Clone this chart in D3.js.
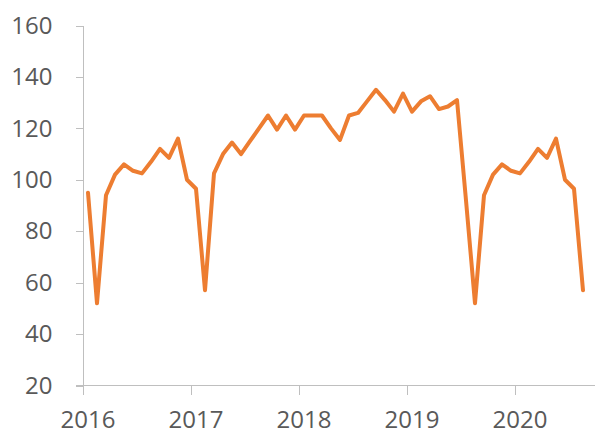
<!DOCTYPE html>
<html>
<head>
<meta charset="utf-8">
<script src="https://cdn.jsdelivr.net/npm/d3@7"></script>
<style>
  body { margin: 0; background: #fff; }
  svg text { font-family: "Open Sans", sans-serif; font-size: 24px; fill: #595959; }
</style>
</head>
<body>
<svg id="chart" width="595" height="433"></svg>
<script>
// monthly values, Jan 2016 .. Aug 2020
var values = [95, 52, 94, 102, 106, 103.5, 102.5, 107, 112, 108.5, 116, 100,
              96.5, 57, 102.5, 110, 114.5, 110, 115, 120, 125, 119.5, 125, 119.5,
              125, 125, 125, 120, 115.5, 125, 126, 130.5, 135, 131, 126.5, 133.5,
              126.5, 130.5, 132.5, 127.5, 128.5, 131, 92, 52, 94, 102, 106, 103.5,
              102.5, 107, 112, 108.5, 116, 100, 96.5, 57];
var months = d3.timeMonth.range(new Date(2016, 0, 1), new Date(2020, 8, 1));
var years = [2016, 2017, 2018, 2019, 2020];
var yTicks = [20, 40, 60, 80, 100, 120, 140, 160];

var data = months.map(function(m, i) { return {month: m, value: values[i]}; });

var svg = d3.select("#chart"),
    plotLeft = 83.5, plotRight = 587.5, plotTop = 25.5, plotBottom = 385.5;

var x = d3.scaleBand().domain(months).range([plotLeft, plotRight]).padding(0);
var y = d3.scaleLinear().domain([20, 160]).range([plotBottom, plotTop]);

var axisColor = "#bfbfbf";

// y axis
var gy = svg.append("g")
    .attr("transform", "translate(" + plotLeft + ",0)")
    .call(d3.axisLeft(y).tickValues(yTicks).tickSize(8).tickPadding(23).tickSizeOuter(0));
gy.select(".domain").remove();
gy.selectAll(".tick line").attr("stroke", axisColor).attr("shape-rendering", "crispEdges");
gy.selectAll(".tick text").attr("font-size", null).attr("font-family", null).attr("fill", null);
gy.attr("font-size", null).attr("font-family", null);
svg.append("line")
    .attr("x1", plotLeft).attr("x2", plotLeft)
    .attr("y1", plotTop).attr("y2", plotBottom)
    .attr("stroke", axisColor).attr("shape-rendering", "crispEdges");

// x axis
var yearStarts = years.map(function(yr) { return new Date(yr, 0, 1); });
svg.append("line")
    .attr("x1", plotLeft - 8).attr("x2", 595)
    .attr("y1", plotBottom).attr("y2", plotBottom)
    .attr("stroke", axisColor).attr("shape-rendering", "crispEdges");
svg.selectAll(".xtick")
    .data(yearStarts)
  .enter().append("line")
    .attr("class", "xtick")
    .attr("x1", function(d) { return Math.floor(x(d)) + 0.5; })
    .attr("x2", function(d) { return Math.floor(x(d)) + 0.5; })
    .attr("y1", plotBottom).attr("y2", plotBottom + 9)
    .attr("stroke", axisColor).attr("shape-rendering", "crispEdges");
svg.selectAll(".xlabel")
    .data(yearStarts)
  .enter().append("text")
    .attr("class", "xlabel")
    .attr("x", function(d) { return x(d) + x.bandwidth() / 2; })
    .attr("y", 420)
    .attr("dy", "0.35em")
    .attr("text-anchor", "middle")
    .text(function(d) { return d.getFullYear(); });

// line
var line = d3.line()
    .x(function(d) { return x(d.month) + x.bandwidth() / 2; })
    .y(function(d) { return y(d.value); });

svg.append("path")
    .datum(data)
    .attr("d", line)
    .attr("fill", "none")
    .attr("stroke", "#ed7d31")
    .attr("stroke-width", 4)
    .attr("stroke-linejoin", "round")
    .attr("stroke-linecap", "round");
</script>
</body>
</html>
